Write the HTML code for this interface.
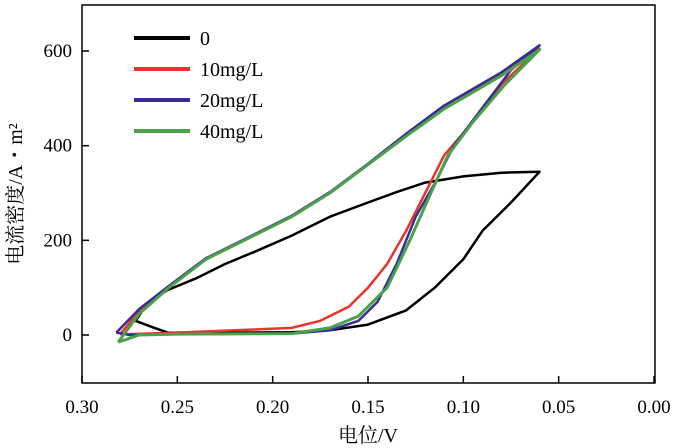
<!DOCTYPE html>
<html><head><meta charset="utf-8"><style>
body{margin:0;background:#fff;}
svg{display:block;font-family:"Liberation Serif","Noto Serif CJK SC",serif;}
</style></head><body>
<svg id="chart" width="677" height="448" viewBox="0 0 677 448">
<rect x="82" y="5" width="573" height="378" fill="none" stroke="#000" stroke-width="1.5"/>
<g id="axes"></g>
<g id="series"></g>
<g id="legend"></g>
<text x="368" y="442" font-size="20" text-anchor="middle">电位/V</text>
<text transform="translate(22,194) rotate(-90)" font-size="20" text-anchor="middle">电流密度/A・m²</text>
</svg>
<script>
const xTicks=[0.30,0.25,0.20,0.15,0.10,0.05,0.00];
const xTickLabels=["0.30","0.25","0.20","0.15","0.10","0.05","0.00"];
const yTicks=[0,200,400,600];
const yTickLabels=["0","200","400","600"];
const seriesNames=["0","10mg/L","20mg/L","40mg/L"];
const seriesColors=["#000000","#e8342a","#3a2a9a","#4aa14a"];
const pot0=[0.272,0.262,0.255,0.22,0.19,0.17,0.15,0.13,0.115,0.10,0.09,0.075,0.06,0.06,0.08,0.10,0.12,0.135,0.15,0.17,0.19,0.21,0.225,0.24,0.255,0.265,0.272];
const cur0=[30,15,5,5,6,10,22,52,100,160,220,280,345,345,343,335,322,302,280,250,210,175,150,120,95,70,30];
const pot10=[0.28,0.275,0.25,0.22,0.19,0.175,0.16,0.15,0.14,0.13,0.12,0.11,0.095,0.08,0.06,0.06,0.08,0.11,0.13,0.15,0.17,0.19,0.21,0.235,0.255,0.27,0.28];
const cur10=[2,2,5,10,15,30,60,100,150,220,300,380,450,530,605,605,550,480,420,360,300,250,210,160,100,50,2];
const pot20=[0.282,0.275,0.25,0.19,0.17,0.155,0.145,0.135,0.125,0.115,0.105,0.09,0.075,0.06,0.06,0.08,0.11,0.13,0.15,0.17,0.19,0.21,0.235,0.255,0.27,0.282];
const cur20=[5,0,2,3,10,30,70,150,250,320,400,480,560,612,612,555,485,425,362,302,252,212,162,102,55,5];
const pot40=[0.281,0.27,0.25,0.19,0.17,0.155,0.14,0.128,0.117,0.108,0.095,0.078,0.06,0.06,0.08,0.11,0.13,0.15,0.17,0.19,0.21,0.235,0.255,0.27,0.281];
const cur40=[-15,0,2,3,15,40,100,200,300,380,450,530,603,603,548,478,420,360,300,250,210,160,98,45,-15];
const pots=[pot0,pot10,pot20,pot40];
const curs=[cur0,cur10,cur20,cur40];
const NS="http://www.w3.org/2000/svg";
function X(v){return 82+(0.30-v)/0.30*572;}
function Y(v){return 335-v*0.4733;}
function mk(t,a,p){const e=document.createElementNS(NS,t);for(const k in a)e.setAttribute(k,a[k]);p.appendChild(e);return e;}
const axes=document.getElementById('axes');
xTicks.forEach((v,i)=>{
 const l=mk('line',{x1:X(v),x2:X(v),y1:383,y2:376,stroke:'#000','stroke-width':1.5},axes);
 
 
 const t=mk('text',{x:X(v),y:413,'font-size':19,'text-anchor':'middle'},axes);
 
 
 t.textContent=xTickLabels[i];
});
yTicks.forEach((v,i)=>{
 const l=mk('line',{x1:82,x2:89,y1:Y(v),y2:Y(v),stroke:'#000','stroke-width':1.5},axes);
 
 
 const t=mk('text',{x:72,y:Y(v)+6,'font-size':19,'text-anchor':'end'},axes);
 
 
 t.textContent=yTickLabels[i];
});
const ser=document.getElementById('series');
pots.forEach((p,s)=>{
 const d=p.map((v,i)=>(i?'L':'M')+X(v).toFixed(1)+' '+Y(curs[s][i]).toFixed(1)).join(' ');
 const e=mk('path',{d:d,fill:'none',stroke:seriesColors[s],'stroke-width':s==3?3:2.5,'stroke-linejoin':'round'},ser);
 
 
});
const leg=document.getElementById('legend');
seriesNames.forEach((n,i)=>{
 const y=38+i*31;
 const l=mk('line',{x1:134,x2:190,y1:y,y2:y,stroke:seriesColors[i],'stroke-width':4},leg);
 
 
 const t=mk('text',{x:200,y:y+7,'font-size':20},leg);
 
 
 t.textContent=n;
});
</script>
</body></html>
